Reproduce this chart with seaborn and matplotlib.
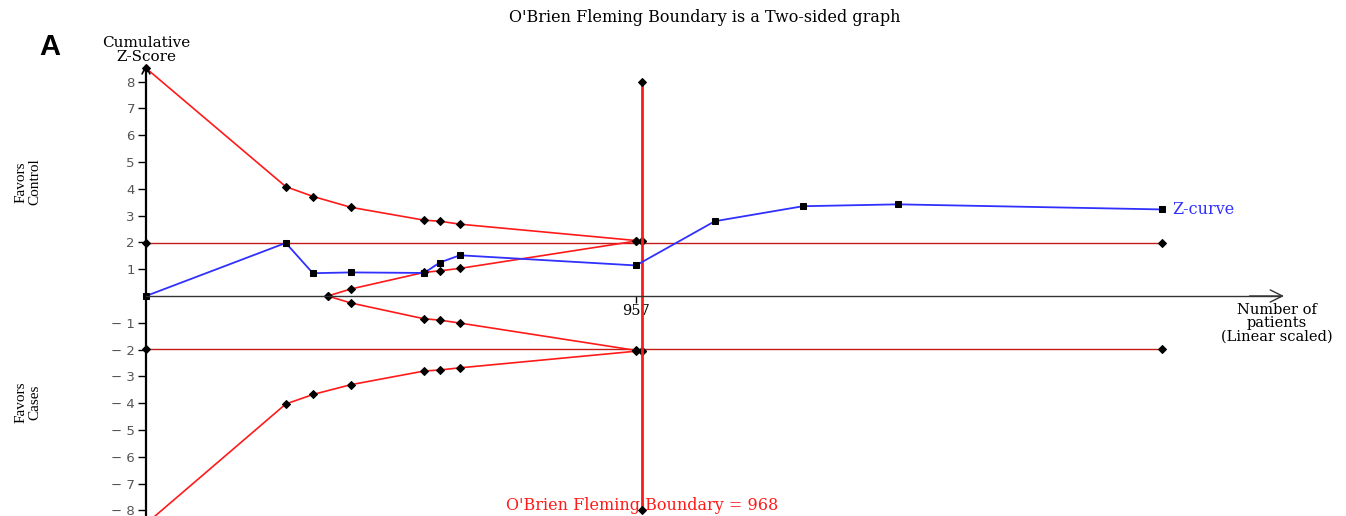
import matplotlib
matplotlib.use("Agg")
import numpy as np
import pandas as pd
import seaborn as sns
import matplotlib.pyplot as plt

sns.set_theme(style="white", context="paper")
plt.rcParams["font.family"] = ["DejaVu Sans"]
plt.rcParams["text.color"] = "black"

# --------------------------------------------------
# Data
# --------------------------------------------------
z_patients = [0, 273, 326, 400, 543, 574, 613, 957, 1111, 1283, 1469, 1984]
z_scores = [0.0, 1.98, 0.85, 0.88, 0.86, 1.25, 1.52, 1.14, 2.79, 3.35, 3.42, 3.23]

obf_patients = [0, 273, 327, 400, 543, 574, 613, 957, 968]
obf_upper = [8.5, 4.08, 3.71, 3.31, 2.83, 2.79, 2.68, 2.07, 2.05]
obf_lower = [-8.5, -4.03, -3.67, -3.31, -2.80, -2.76, -2.68, -2.06, -2.05]

inner_patients = [355, 400, 543, 574, 613, 957, 968]
inner_upper = [0.0, 0.26, 0.88, 0.94, 1.03, 2.05, 2.05]
inner_lower = [0.0, -0.26, -0.85, -0.90, -1.01, -2.03, -2.05]

conv_patients = [0, 1984]
conv_z = 1.96

ris = 968
ris_tick = 957
y_ticks = [-8, -7, -6, -5, -4, -3, -2, -1, 1, 2, 3, 4, 5, 6, 7, 8]

RED = "#ff1a1a"
DARKRED = "#c41a1a"
BLUE = "#3030ff"
SERIF = "DejaVu Serif"

# pixel mapping of the original: origin at (146, 296)
W, H = 1346, 516
PX_X, PX_Y = 0.512, 26.8
fig = plt.figure(figsize=(W / 100, H / 100), dpi=100)
ax = fig.add_axes([0, 0, 1, 1])
ax.set_xlim(-146 / PX_X, (W - 146) / PX_X)
ax.set_ylim(-(H - 296) / PX_Y, 296 / PX_Y)
ax.patch.set_alpha(0)

diamond = dict(marker="D", markersize=4, markerfacecolor="black", markeredgecolor="black")
line_kw = dict(ax=ax, sort=False, estimator=None)

# conventional boundaries +-1.96
for sign in (1, -1):
    sns.lineplot(x=conv_patients, y=[sign * conv_z] * 2, color=DARKRED, linewidth=1.0,
                 **line_kw, **diamond)

# O'Brien Fleming boundaries
for ys in (obf_upper, obf_lower):
    sns.lineplot(x=obf_patients, y=ys, color=RED, linewidth=1.2, **line_kw, **diamond)
for ys in (inner_upper, inner_lower):
    sns.lineplot(x=inner_patients, y=ys, color=RED, linewidth=1.2, **line_kw, **diamond)

# required information size
sns.lineplot(x=[ris, ris], y=[-8, 8], color=RED, linewidth=2, **line_kw, **diamond)

# Z-curve
sns.lineplot(x=z_patients, y=z_scores, color=BLUE, linewidth=1.3, **line_kw,
             marker="s", markersize=5, markerfacecolor="black", markeredgecolor="black")

# axes drawn as arrows through the origin
for s in ("top", "right"):
    ax.spines[s].set_visible(False)
ax.spines["left"].set_position(("data", 0))
ax.spines["bottom"].set_position(("data", 0))
ax.spines["left"].set_bounds(-8.3, 8.6)
ax.spines["bottom"].set_bounds(0, 2215)
ax.spines["left"].set_color("black")
ax.spines["left"].set_linewidth(1.6)
ax.spines["bottom"].set_color("#333333")
ax.spines["bottom"].set_linewidth(1.0)
ax.annotate("", xy=(0, 8.75), xytext=(0, 8.2),
            arrowprops=dict(arrowstyle="->", color="black", lw=1.2, mutation_scale=14))
ax.annotate("", xy=(2228, 0), xytext=(2150, 0),
            arrowprops=dict(arrowstyle="->", color="#333333", lw=1.0, mutation_scale=22))

ax.set_yticks(y_ticks)
ax.set_yticklabels([f"\u2212 {abs(v)}" if v < 0 else str(v) for v in y_ticks],
                   color="#555555", fontsize=9.5)
ax.set_xticks([ris_tick])
ax.set_xticklabels([str(ris_tick)], fontfamily=SERIF, fontsize=10.5, color="black")
ax.tick_params(axis="y", direction="out", length=6, width=1, color="black", pad=2, left=True)
ax.tick_params(axis="x", direction="out", length=5, width=1, color="black", pad=1, bottom=True)
ax.grid(False)

# text
fig.text(705 / W, 1 - 18 / H, "O'Brien Fleming Boundary is a Two-sided graph",
         ha="center", va="center", fontfamily=SERIF, fontsize=11.5)
fig.text(50 / W, 1 - 47 / H, "A", ha="center", va="center", fontsize=21, fontweight="bold",
         fontfamily="Liberation Sans")
fig.text(146 / W, 1 - 50 / H, "Cumulative\nZ-Score", ha="center", va="center",
         fontfamily=SERIF, fontsize=11, linespacing=0.95)
fig.text(28 / W, 1 - 182 / H, "Favors\nControl", ha="center", va="center", rotation=90,
         fontfamily="Liberation Serif", fontsize=11, linespacing=1.0)
fig.text(28 / W, 1 - 402 / H, "Favors\nCases", ha="center", va="center", rotation=90,
         fontfamily="Liberation Serif", fontsize=11, linespacing=1.0)
fig.text(1277 / W, 1 - 323 / H, "Number of\npatients\n(Linear scaled)", ha="center", va="center",
         fontfamily=SERIF, fontsize=10.5, linespacing=0.95)
ax.text(2005, 3.23, "Z-curve", ha="left", va="center", color=BLUE, fontfamily=SERIF, fontsize=11.5)
fig.text(642 / W, 1 - 506 / H, "O'Brien Fleming Boundary = 968", ha="center", va="center",
         color=RED, fontfamily=SERIF, fontsize=11.5)

fig.savefig("out.png", dpi=100)
